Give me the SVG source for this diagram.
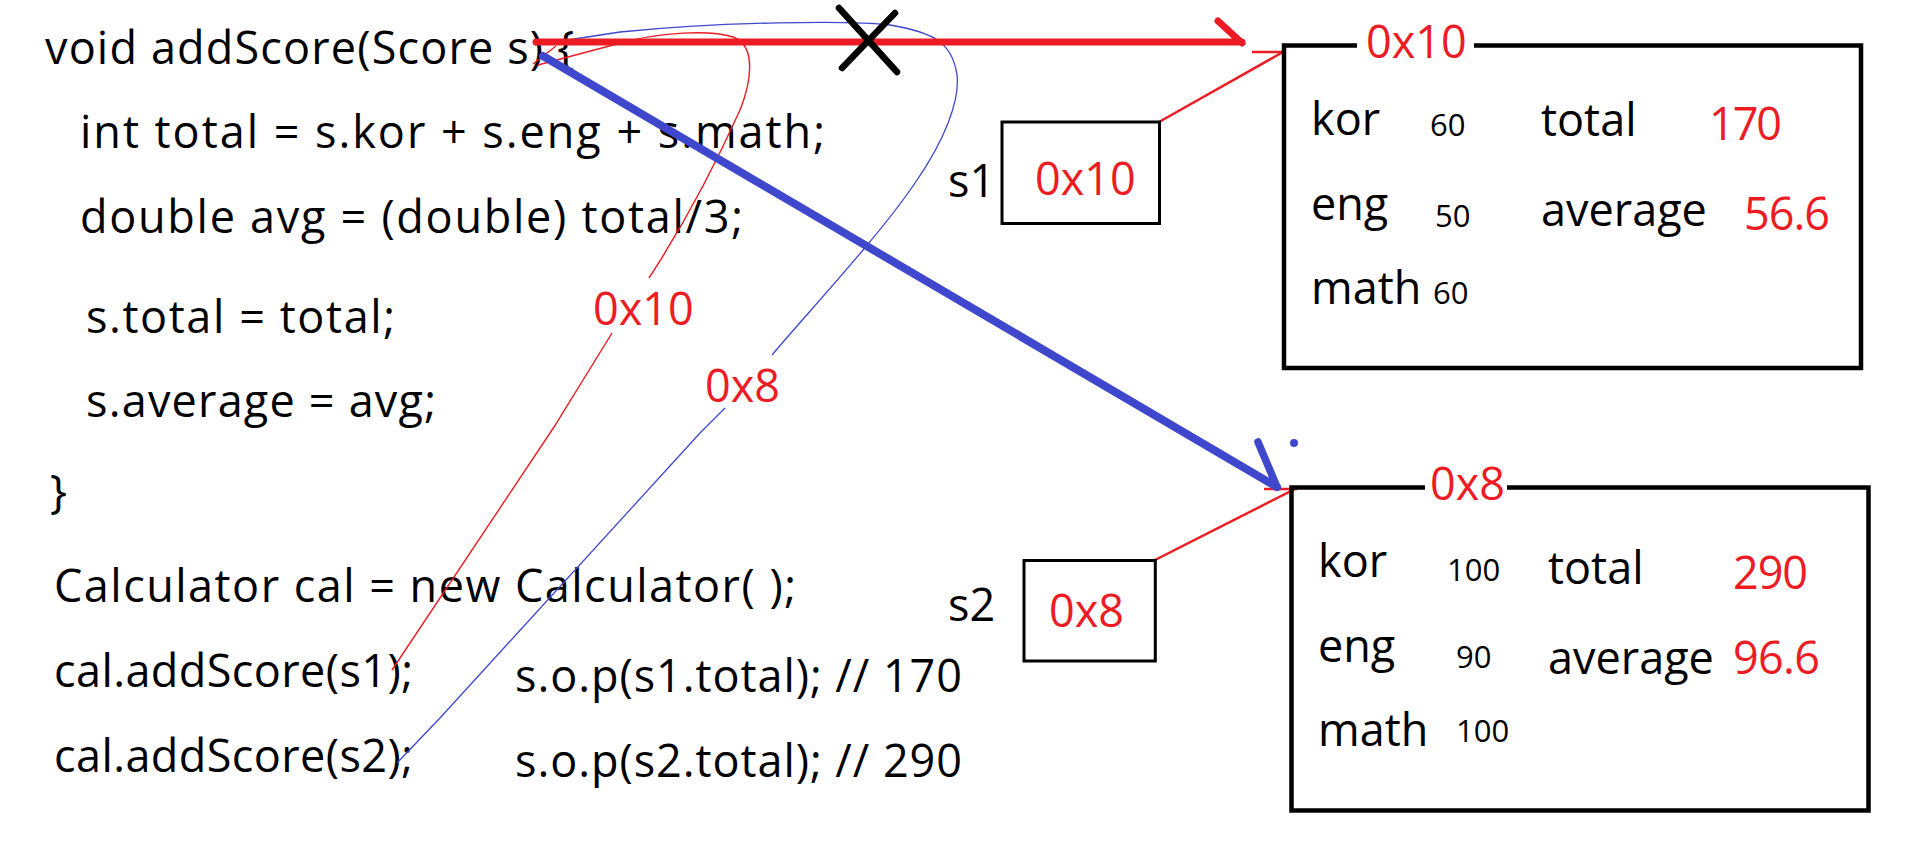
<svg xmlns="http://www.w3.org/2000/svg" width="1917" height="857" viewBox="0 0 1917 857">
<style>
  text { font-family: "Open Sans", "Noto Sans", "Liberation Sans", sans-serif; font-size: 45px; fill: #000; }
  .red { fill: #ed1c24; }
  .small { font-size: 31px; }
  .box { fill: none; stroke: #000; stroke-width: 4.5; }
  .vbox { fill: none; stroke: #000; stroke-width: 3; }
  .thinred { fill: none; stroke: #ed1c24; stroke-width: 1.4; }
  .thinblue { fill: none; stroke: #3f48cc; stroke-width: 1.3; }
  .ptr { fill: none; stroke: #ed1c24; stroke-width: 2.5; }
  .thickred { fill: none; stroke: #ed1c24; stroke-width: 7; stroke-linecap: round; }
  .thickblue { fill: none; stroke: #3f48cc; stroke-width: 8; stroke-linecap: round; }
  .cross { fill: none; stroke: #000; stroke-width: 6.5; stroke-linecap: round; }
</style>
<rect x="0" y="0" width="1917" height="857" fill="#fff"/>

<g id="code">
  <text x="45" y="64" textLength="529">void addScore(Score s) {</text>
  <text x="80" y="148" textLength="745">int total = s.kor + s.eng + s.math;</text>
  <text x="80" y="233" textLength="663">double avg = (double) total/3;</text>
  <text x="86" y="333" textLength="309">s.total = total;</text>
  <text x="86" y="417" textLength="350">s.average = avg;</text>
  <text x="50" y="508">}</text>
  <text x="54" y="602" textLength="742">Calculator cal = new Calculator( );</text>
  <text x="54" y="687" textLength="359">cal.addScore(s1);</text>
  <text x="54" y="772" textLength="359">cal.addScore(s2);</text>
  <text x="515" y="692" textLength="447">s.o.p(s1.total); // 170</text>
  <text x="515" y="777" textLength="447">s.o.p(s2.total); // 290</text>
</g>

<g id="connectors">
  <!-- thin red curve from cal.addScore(s1) to parameter s -->
  <path class="thinred" d="M 392,670 L 554,427 L 612,333"/>
  <path class="thinred" d="M 649,278 C 690,215 722,150 740,110 C 752,80 756,45 733,37 C 712,30 660,31 613,45 L 538,65 M 533,64 L 556,46"/>
  <!-- thin blue curve from cal.addScore(s2) to parameter s -->
  <path class="thinblue" d="M 397,763 L 440,718 L 700,433 L 725,408"/>
  <path class="thinblue" d="M 772,355 C 810,310 880,235 915,183 C 945,140 960,100 957,75 C 952,40 930,32 890,25 C 850,20 720,22 620,32 L 535,45"/>
  <!-- s1 pointer -->
  <path class="ptr" d="M 1159,122 L 1283,52 M 1252,52 L 1283,52"/>
  <!-- s2 pointer -->
  <path class="ptr" d="M 1155,560 L 1297,488 M 1264,489 L 1297,489"/>
  <!-- thick red arrow (first call) -->
  <path class="thickred" d="M 536,42 L 1242,42 M 1218,21 L 1242,43"/>
  <!-- thick blue arrow (second call) -->
  <path class="thickblue" d="M 543,56 L 1277,487"/>
  <path class="thickblue" style="stroke-width:7.5" d="M 1258,442 L 1277,487"/>
  <circle cx="1294" cy="443" r="4" fill="#3f48cc"/>
  <!-- cross -->
  <path class="cross" d="M 839,8 L 897,72 M 895,13 L 842,68"/>
  <text class="red" x="593" y="325">0x10</text>
  <text class="red" x="705" y="402">0x8</text>
</g>

<g id="var-s1">
  <text x="948" y="197">s1</text>
  <rect class="vbox" x="1002" y="122" width="157.5" height="101.5"/>
  <text class="red" x="1035" y="195">0x10</text>
</g>

<g id="var-s2">
  <text x="948" y="621">s2</text>
  <rect class="vbox" x="1024" y="560.5" width="131.3" height="100.5"/>
  <text class="red" x="1049" y="627">0x8</text>
</g>

<g id="obj-0x10">
  <path class="box" d="M 1357,45.5 L 1284,45.5 L 1284,368 L 1861,368 L 1861,45.5 L 1474,45.5"/>
  <text class="red" x="1366" y="58">0x10</text>
  <text x="1311" y="135">kor</text>
  <text class="small" x="1430" y="136">60</text>
  <text x="1541" y="136">total</text>
  <text class="red" x="1709" y="140" textLength="73">170</text>
  <text x="1311" y="220">eng</text>
  <text class="small" x="1435" y="227">50</text>
  <text x="1541" y="226">average</text>
  <text class="red" x="1744" y="230" textLength="86">56.6</text>
  <text x="1311" y="304">math</text>
  <text class="small" x="1433" y="304">60</text>
</g>

<g id="obj-0x8">
  <path class="box" d="M 1425,487.5 L 1291.5,487.5 L 1291.5,810.5 L 1868.5,810.5 L 1868.5,487.5 L 1507,487.5"/>
  <text class="red" x="1430" y="500">0x8</text>
  <text x="1318" y="577">kor</text>
  <text class="small" x="1447" y="581">100</text>
  <text x="1548" y="584">total</text>
  <text class="red" x="1733" y="589" textLength="75">290</text>
  <text x="1318" y="662">eng</text>
  <text class="small" x="1456" y="668">90</text>
  <text x="1548" y="674">average</text>
  <text class="red" x="1733" y="674" textLength="87">96.6</text>
  <text x="1318" y="746">math</text>
  <text class="small" x="1456" y="742">100</text>
</g>
</svg>
